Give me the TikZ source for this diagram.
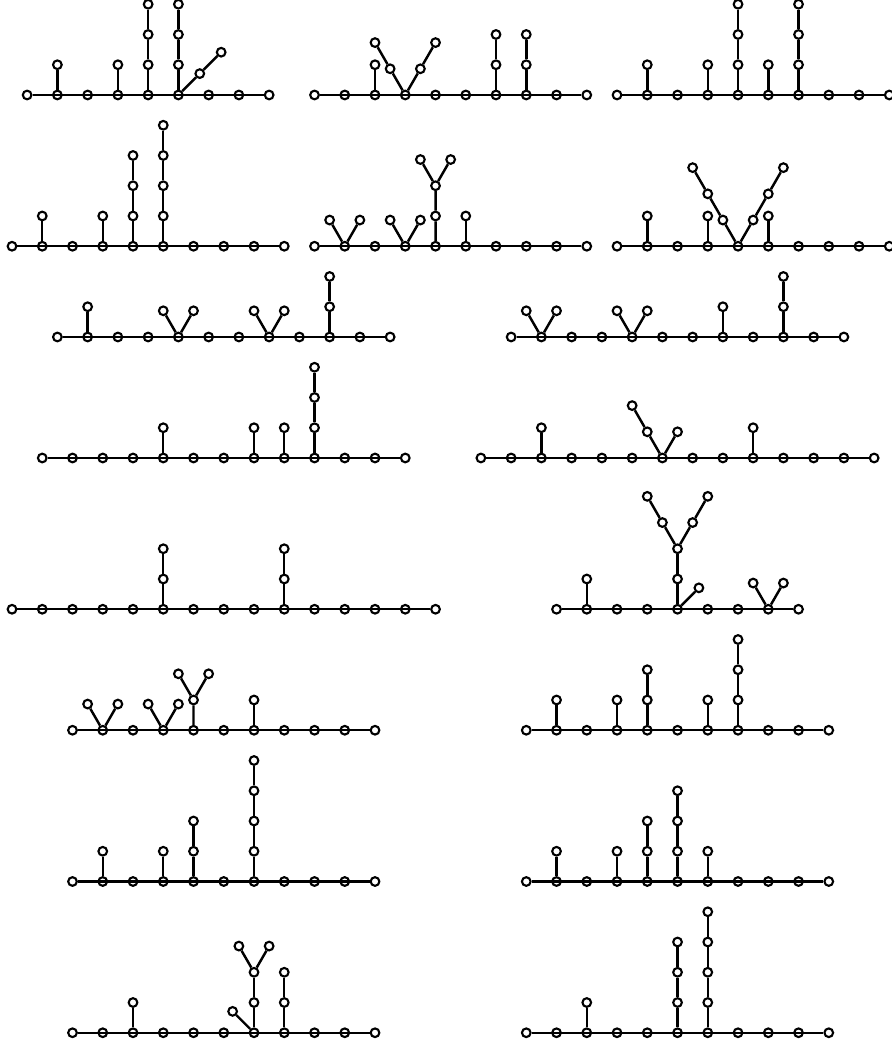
\documentclass[tikz,border=0pt]{standalone}
\usepackage{tikz}

\begin{document}
\begin{tikzpicture}[x=0.9075cm,y=0.9075cm]
  \tikzset{graphvertex/.style={circle,fill=white,draw=black,line width=1.8pt,inner sep=0pt,minimum size=0.26cm}}
  \tikzset{graphedge/.style={draw=black,line width=2.1pt}}
  \useasboundingbox (-0.397,3.140) rectangle (29.058,-31.438);

  % tree 1
  \foreach \x [count=\i] in {0.5,1.5,...,8.5} \node[graphvertex] (t1s\i) at (\x,0) {};
  \draw[graphedge] (t1s1) \foreach \i in {2,...,9} {-- (t1s\i)};
  \node[graphvertex] (t1a1) at (1.5,1) {};
  \node[graphvertex] (t1b1) at (3.5,1) {};
  \foreach \h in {1,2,3} \node[graphvertex] (t1c\h) at (4.5,\h) {};
  \foreach \h in {1,2,3} \node[graphvertex] (t1d\h) at (5.5,\h) {};
  \node[graphvertex] (t1e1) at (6.207,0.707) {};
  \node[graphvertex] (t1e2) at (6.914,1.414) {};
  \draw[graphedge] (t1s2) -- (t1a1);
  \draw[graphedge] (t1s4) -- (t1b1);
  \draw[graphedge] (t1s5) -- (t1c1) -- (t1c2) -- (t1c3);
  \draw[graphedge] (t1s6) -- (t1d1) -- (t1d2) -- (t1d3);
  \draw[graphedge] (t1s6) -- (t1e1) -- (t1e2);

  % tree 2
  \foreach \x [count=\i] in {10,...,19} \node[graphvertex] (t2s\i) at (\x,0) {};
  \draw[graphedge] (t2s1) \foreach \i in {2,...,10} {-- (t2s\i)};
  \node[graphvertex] (t2a1) at (12,1) {};
  \node[graphvertex] (t2b1) at (12.5,0.866) {};
  \node[graphvertex] (t2b2) at (12,1.732) {};
  \node[graphvertex] (t2c1) at (13.5,0.866) {};
  \node[graphvertex] (t2c2) at (14,1.732) {};
  \foreach \h in {1,2} \node[graphvertex] (t2d\h) at (16,\h) {};
  \foreach \h in {1,2} \node[graphvertex] (t2e\h) at (17,\h) {};
  \draw[graphedge] (t2s3) -- (t2a1);
  \draw[graphedge] (t2s4) -- (t2b1) -- (t2b2);
  \draw[graphedge] (t2s4) -- (t2c1) -- (t2c2);
  \draw[graphedge] (t2s7) -- (t2d1) -- (t2d2);
  \draw[graphedge] (t2s8) -- (t2e1) -- (t2e2);

  % tree 3
  \foreach \x [count=\i] in {20,...,29} \node[graphvertex] (t3s\i) at (\x,0) {};
  \draw[graphedge] (t3s1) \foreach \i in {2,...,10} {-- (t3s\i)};
  \node[graphvertex] (t3a1) at (21,1) {};
  \node[graphvertex] (t3b1) at (23,1) {};
  \foreach \h in {1,2,3} \node[graphvertex] (t3c\h) at (24,\h) {};
  \node[graphvertex] (t3d1) at (25,1) {};
  \foreach \h in {1,2,3} \node[graphvertex] (t3e\h) at (26,\h) {};
  \draw[graphedge] (t3s2) -- (t3a1);
  \draw[graphedge] (t3s4) -- (t3b1);
  \draw[graphedge] (t3s5) -- (t3c1) -- (t3c2) -- (t3c3);
  \draw[graphedge] (t3s6) -- (t3d1);
  \draw[graphedge] (t3s7) -- (t3e1) -- (t3e2) -- (t3e3);

  % tree 4
  \foreach \x [count=\i] in {0,...,9} \node[graphvertex] (t4s\i) at (\x,-5) {};
  \draw[graphedge] (t4s1) \foreach \i in {2,...,10} {-- (t4s\i)};
  \node[graphvertex] (t4a1) at (1,-4) {};
  \node[graphvertex] (t4b1) at (3,-4) {};
  \foreach \y [count=\h] in {-4,-3,-2} \node[graphvertex] (t4c\h) at (4,\y) {};
  \foreach \y [count=\h] in {-4,-3,-2,-1} \node[graphvertex] (t4d\h) at (5,\y) {};
  \draw[graphedge] (t4s2) -- (t4a1);
  \draw[graphedge] (t4s4) -- (t4b1);
  \draw[graphedge] (t4s5) -- (t4c1) -- (t4c2) -- (t4c3);
  \draw[graphedge] (t4s6) -- (t4d1) -- (t4d2) -- (t4d3) -- (t4d4);

  % tree 5
  \foreach \x [count=\i] in {10,...,19} \node[graphvertex] (t5s\i) at (\x,-5) {};
  \draw[graphedge] (t5s1) \foreach \i in {2,...,10} {-- (t5s\i)};
  \node[graphvertex] (t5a1) at (10.5,-4.134) {};
  \node[graphvertex] (t5a2) at (11.5,-4.134) {};
  \node[graphvertex] (t5b1) at (12.5,-4.134) {};
  \node[graphvertex] (t5b2) at (13.5,-4.134) {};
  \node[graphvertex] (t5c1) at (14,-4) {};
  \node[graphvertex] (t5c2) at (14,-3) {};
  \node[graphvertex] (t5c3) at (13.5,-2.134) {};
  \node[graphvertex] (t5c4) at (14.5,-2.134) {};
  \node[graphvertex] (t5d1) at (15,-4) {};
  \draw[graphedge] (t5a1) -- (t5s2) -- (t5a2);
  \draw[graphedge] (t5b1) -- (t5s4) -- (t5b2);
  \draw[graphedge] (t5s5) -- (t5c1) -- (t5c2) -- (t5c3);
  \draw[graphedge] (t5c2) -- (t5c4);
  \draw[graphedge] (t5s6) -- (t5d1);

  % tree 6
  \foreach \x [count=\i] in {20,...,29} \node[graphvertex] (t6s\i) at (\x,-5) {};
  \draw[graphedge] (t6s1) \foreach \i in {2,...,10} {-- (t6s\i)};
  \node[graphvertex] (t6a1) at (21,-4) {};
  \node[graphvertex] (t6b1) at (23,-4) {};
  \node[graphvertex] (t6c1) at (25,-4) {};
  \node[graphvertex] (t6d1) at (23.5,-4.134) {};
  \node[graphvertex] (t6d2) at (23,-3.268) {};
  \node[graphvertex] (t6d3) at (22.5,-2.402) {};
  \node[graphvertex] (t6e1) at (24.5,-4.134) {};
  \node[graphvertex] (t6e2) at (25,-3.268) {};
  \node[graphvertex] (t6e3) at (25.5,-2.402) {};
  \draw[graphedge] (t6s2) -- (t6a1);
  \draw[graphedge] (t6s4) -- (t6b1);
  \draw[graphedge] (t6s6) -- (t6c1);
  \draw[graphedge] (t6s5) -- (t6d1) -- (t6d2) -- (t6d3);
  \draw[graphedge] (t6s5) -- (t6e1) -- (t6e2) -- (t6e3);

  % tree 7
  \foreach \x [count=\i] in {1.5,2.5,...,12.5} \node[graphvertex] (t7s\i) at (\x,-8) {};
  \draw[graphedge] (t7s1) \foreach \i in {2,...,12} {-- (t7s\i)};
  \node[graphvertex] (t7a1) at (2.5,-7) {};
  \node[graphvertex] (t7b1) at (5,-7.134) {};
  \node[graphvertex] (t7b2) at (6,-7.134) {};
  \node[graphvertex] (t7c1) at (8,-7.134) {};
  \node[graphvertex] (t7c2) at (9,-7.134) {};
  \node[graphvertex] (t7d1) at (10.5,-7) {};
  \node[graphvertex] (t7d2) at (10.5,-6) {};
  \draw[graphedge] (t7s2) -- (t7a1);
  \draw[graphedge] (t7b1) -- (t7s5) -- (t7b2);
  \draw[graphedge] (t7c1) -- (t7s8) -- (t7c2);
  \draw[graphedge] (t7s10) -- (t7d1) -- (t7d2);

  % tree 8
  \foreach \x [count=\i] in {16.5,17.5,...,27.5} \node[graphvertex] (t8s\i) at (\x,-8) {};
  \draw[graphedge] (t8s1) \foreach \i in {2,...,12} {-- (t8s\i)};
  \node[graphvertex] (t8a1) at (17,-7.134) {};
  \node[graphvertex] (t8a2) at (18,-7.134) {};
  \node[graphvertex] (t8b1) at (20,-7.134) {};
  \node[graphvertex] (t8b2) at (21,-7.134) {};
  \node[graphvertex] (t8c1) at (23.5,-7) {};
  \node[graphvertex] (t8d1) at (25.5,-7) {};
  \node[graphvertex] (t8d2) at (25.5,-6) {};
  \draw[graphedge] (t8a1) -- (t8s2) -- (t8a2);
  \draw[graphedge] (t8b1) -- (t8s5) -- (t8b2);
  \draw[graphedge] (t8s8) -- (t8c1);
  \draw[graphedge] (t8s10) -- (t8d1) -- (t8d2);

  % tree 9
  \foreach \x [count=\i] in {1,...,13} \node[graphvertex] (t9s\i) at (\x,-12) {};
  \draw[graphedge] (t9s1) \foreach \i in {2,...,13} {-- (t9s\i)};
  \node[graphvertex] (t9a1) at (5,-11) {};
  \node[graphvertex] (t9b1) at (8,-11) {};
  \node[graphvertex] (t9c1) at (9,-11) {};
  \foreach \y [count=\h] in {-11,-10,-9} \node[graphvertex] (t9d\h) at (10,\y) {};
  \draw[graphedge] (t9s5) -- (t9a1);
  \draw[graphedge] (t9s8) -- (t9b1);
  \draw[graphedge] (t9s9) -- (t9c1);
  \draw[graphedge] (t9s10) -- (t9d1) -- (t9d2) -- (t9d3);

  % tree 10
  \foreach \x [count=\i] in {15.5,16.5,...,28.5} \node[graphvertex] (t10s\i) at (\x,-12) {};
  \draw[graphedge] (t10s1) \foreach \i in {2,...,14} {-- (t10s\i)};
  \node[graphvertex] (t10a1) at (17.5,-11) {};
  \node[graphvertex] (t10b1) at (21,-11.134) {};
  \node[graphvertex] (t10b2) at (20.5,-10.268) {};
  \node[graphvertex] (t10c1) at (22,-11.134) {};
  \node[graphvertex] (t10d1) at (24.5,-11) {};
  \draw[graphedge] (t10s3) -- (t10a1);
  \draw[graphedge] (t10s7) -- (t10b1) -- (t10b2);
  \draw[graphedge] (t10s7) -- (t10c1);
  \draw[graphedge] (t10s10) -- (t10d1);

  % tree 11
  \foreach \x [count=\i] in {0,...,14} \node[graphvertex] (t11s\i) at (\x,-17) {};
  \draw[graphedge] (t11s1) \foreach \i in {2,...,15} {-- (t11s\i)};
  \node[graphvertex] (t11a1) at (5,-16) {};
  \node[graphvertex] (t11a2) at (5,-15) {};
  \node[graphvertex] (t11b1) at (9,-16) {};
  \node[graphvertex] (t11b2) at (9,-15) {};
  \draw[graphedge] (t11s6) -- (t11a1) -- (t11a2);
  \draw[graphedge] (t11s10) -- (t11b1) -- (t11b2);

  % tree 12
  \foreach \x [count=\i] in {18,...,26} \node[graphvertex] (t12s\i) at (\x,-17) {};
  \draw[graphedge] (t12s1) \foreach \i in {2,...,9} {-- (t12s\i)};
  \node[graphvertex] (t12a1) at (19,-16) {};
  \node[graphvertex] (t12b1) at (22,-16) {};
  \node[graphvertex] (t12b2) at (22,-15) {};
  \node[graphvertex] (t12c1) at (21.5,-14.134) {};
  \node[graphvertex] (t12c2) at (21,-13.268) {};
  \node[graphvertex] (t12d1) at (22.5,-14.134) {};
  \node[graphvertex] (t12d2) at (23,-13.268) {};
  \node[graphvertex] (t12e1) at (22.707,-16.293) {};
  \node[graphvertex] (t12f1) at (24.5,-16.134) {};
  \node[graphvertex] (t12f2) at (25.5,-16.134) {};
  \draw[graphedge] (t12s2) -- (t12a1);
  \draw[graphedge] (t12s5) -- (t12b1) -- (t12b2);
  \draw[graphedge] (t12b2) -- (t12c1) -- (t12c2);
  \draw[graphedge] (t12b2) -- (t12d1) -- (t12d2);
  \draw[graphedge] (t12s5) -- (t12e1);
  \draw[graphedge] (t12f1) -- (t12s8) -- (t12f2);

  % tree 13
  \foreach \x [count=\i] in {2,...,12} \node[graphvertex] (t13s\i) at (\x,-21) {};
  \draw[graphedge] (t13s1) \foreach \i in {2,...,11} {-- (t13s\i)};
  \node[graphvertex] (t13a1) at (2.5,-20.134) {};
  \node[graphvertex] (t13a2) at (3.5,-20.134) {};
  \node[graphvertex] (t13b1) at (4.5,-20.134) {};
  \node[graphvertex] (t13b2) at (5.5,-20.134) {};
  \node[graphvertex] (t13c1) at (6,-20) {};
  \node[graphvertex] (t13c2) at (5.5,-19.134) {};
  \node[graphvertex] (t13c3) at (6.5,-19.134) {};
  \node[graphvertex] (t13d1) at (8,-20) {};
  \draw[graphedge] (t13a1) -- (t13s2) -- (t13a2);
  \draw[graphedge] (t13b1) -- (t13s4) -- (t13b2);
  \draw[graphedge] (t13s5) -- (t13c1) -- (t13c2);
  \draw[graphedge] (t13c1) -- (t13c3);
  \draw[graphedge] (t13s7) -- (t13d1);

  % tree 14
  \foreach \x [count=\i] in {17,...,27} \node[graphvertex] (t14s\i) at (\x,-21) {};
  \draw[graphedge] (t14s1) \foreach \i in {2,...,11} {-- (t14s\i)};
  \node[graphvertex] (t14a1) at (18,-20) {};
  \node[graphvertex] (t14b1) at (20,-20) {};
  \foreach \y [count=\h] in {-20,-19} \node[graphvertex] (t14c\h) at (21,\y) {};
  \node[graphvertex] (t14d1) at (23,-20) {};
  \foreach \y [count=\h] in {-20,-19,-18} \node[graphvertex] (t14e\h) at (24,\y) {};
  \draw[graphedge] (t14s2) -- (t14a1);
  \draw[graphedge] (t14s4) -- (t14b1);
  \draw[graphedge] (t14s5) -- (t14c1) -- (t14c2);
  \draw[graphedge] (t14s7) -- (t14d1);
  \draw[graphedge] (t14s8) -- (t14e1) -- (t14e2) -- (t14e3);

  % tree 15
  \foreach \x [count=\i] in {2,...,12} \node[graphvertex] (t15s\i) at (\x,-26) {};
  \draw[graphedge] (t15s1) \foreach \i in {2,...,11} {-- (t15s\i)};
  \node[graphvertex] (t15a1) at (3,-25) {};
  \node[graphvertex] (t15b1) at (5,-25) {};
  \foreach \y [count=\h] in {-25,-24} \node[graphvertex] (t15c\h) at (6,\y) {};
  \foreach \y [count=\h] in {-25,-24,-23,-22} \node[graphvertex] (t15d\h) at (8,\y) {};
  \draw[graphedge] (t15s2) -- (t15a1);
  \draw[graphedge] (t15s4) -- (t15b1);
  \draw[graphedge] (t15s5) -- (t15c1) -- (t15c2);
  \draw[graphedge] (t15s7) -- (t15d1) -- (t15d2) -- (t15d3) -- (t15d4);

  % tree 16
  \foreach \x [count=\i] in {17,...,27} \node[graphvertex] (t16s\i) at (\x,-26) {};
  \draw[graphedge] (t16s1) \foreach \i in {2,...,11} {-- (t16s\i)};
  \node[graphvertex] (t16a1) at (18,-25) {};
  \node[graphvertex] (t16b1) at (20,-25) {};
  \foreach \y [count=\h] in {-25,-24} \node[graphvertex] (t16c\h) at (21,\y) {};
  \foreach \y [count=\h] in {-25,-24,-23} \node[graphvertex] (t16d\h) at (22,\y) {};
  \node[graphvertex] (t16e1) at (23,-25) {};
  \draw[graphedge] (t16s2) -- (t16a1);
  \draw[graphedge] (t16s4) -- (t16b1);
  \draw[graphedge] (t16s5) -- (t16c1) -- (t16c2);
  \draw[graphedge] (t16s6) -- (t16d1) -- (t16d2) -- (t16d3);
  \draw[graphedge] (t16s7) -- (t16e1);

  % tree 17
  \foreach \x [count=\i] in {2,...,12} \node[graphvertex] (t17s\i) at (\x,-31) {};
  \draw[graphedge] (t17s1) \foreach \i in {2,...,11} {-- (t17s\i)};
  \node[graphvertex] (t17a1) at (4,-30) {};
  \node[graphvertex] (t17b1) at (8,-30) {};
  \node[graphvertex] (t17b2) at (8,-29) {};
  \node[graphvertex] (t17c1) at (7.5,-28.134) {};
  \node[graphvertex] (t17c2) at (8.5,-28.134) {};
  \node[graphvertex] (t17d1) at (7.293,-30.293) {};
  \node[graphvertex] (t17e1) at (9,-30) {};
  \node[graphvertex] (t17e2) at (9,-29) {};
  \draw[graphedge] (t17s3) -- (t17a1);
  \draw[graphedge] (t17s7) -- (t17b1) -- (t17b2);
  \draw[graphedge] (t17c1) -- (t17b2) -- (t17c2);
  \draw[graphedge] (t17s7) -- (t17d1);
  \draw[graphedge] (t17s8) -- (t17e1) -- (t17e2);

  % tree 18
  \foreach \x [count=\i] in {17,...,27} \node[graphvertex] (t18s\i) at (\x,-31) {};
  \draw[graphedge] (t18s1) \foreach \i in {2,...,11} {-- (t18s\i)};
  \node[graphvertex] (t18a1) at (19,-30) {};
  \foreach \y [count=\h] in {-30,-29,-28} \node[graphvertex] (t18b\h) at (22,\y) {};
  \foreach \y [count=\h] in {-30,-29,-28,-27} \node[graphvertex] (t18c\h) at (23,\y) {};
  \draw[graphedge] (t18s3) -- (t18a1);
  \draw[graphedge] (t18s6) -- (t18b1) -- (t18b2) -- (t18b3);
  \draw[graphedge] (t18s7) -- (t18c1) -- (t18c2) -- (t18c3) -- (t18c4);
\end{tikzpicture}
\end{document}
